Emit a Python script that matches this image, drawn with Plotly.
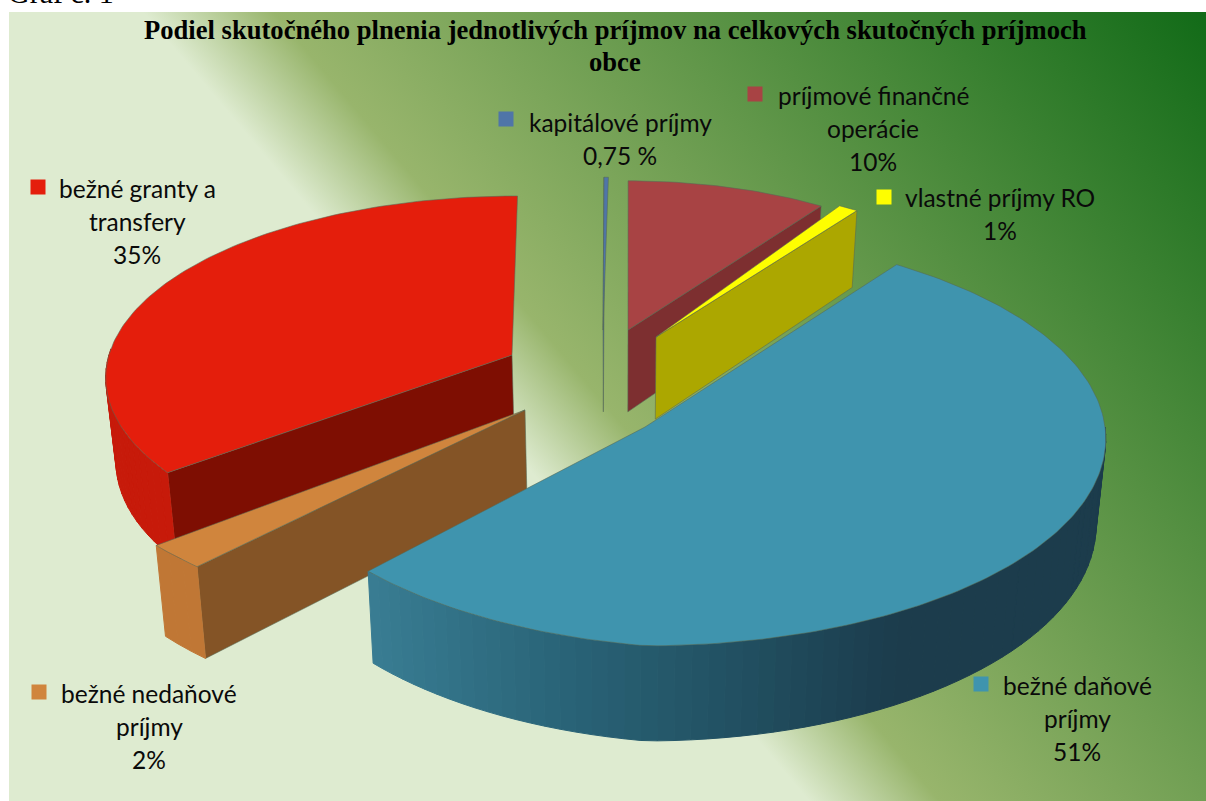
import base64

import numpy as np
import plotly.graph_objects as go

categories = [
    "bežné daňové príjmy",
    "bežné nedaňové príjmy",
    "bežné granty a transfery",
    "kapitálové príjmy",
    "príjmové finančné operácie",
    "vlastné príjmy RO",
]
# slice sizes (labels below are rounded / hand typed)
values = [51.49, 2.1, 35.49, 0.2, 9.5, 0.92]
value_labels = ["51%", "2%", "35%", "0,75 %", "10%", "1%"]
label_lines = [
    ["bežné daňové", "príjmy"],
    ["bežné nedaňové", "príjmy"],
    ["bežné granty a", "transfery"],
    ["kapitálové príjmy"],
    ["príjmové finančné", "operácie"],
    ["vlastné príjmy RO"],
]
title_lines = [
    "Podiel skutočného plnenia jednotlivých príjmov na celkových skutočných príjmoch",
    "obce",
]

W, H = 1206, 801

# chart look: pie geometry in page pixels
START_ANGLE = 38
VANISH_X, REF_Y = 620, 427
RX, RY, PERSP = 460, 207, 0.054

# apex of each exploded slice, radius tweaks, legend key, label centre
apex = [(645, 427), (525, 410), (512, 355), (603, 330), (628, 330), (656, 337)]
r_base = [1.0, 1.0, 0.893, 0.81, 0.79, 0.81]
r_front = [0, 0, 0.06, 0, 0, 0]
r_left = [0.17, 0, 0, 0, 0, 0]
angle_nudge = [-3, -1.1, 0.5, 0.4, -0.3, -2.9]
key_pos = [(981, 684), (39, 692), (38, 187), (506, 119), (755, 94), (884, 197)]
label_pos = [(1077, 685), (149, 693), (137, 188), (620, 122), (873, 95), (1000, 197)]
top_color = ["#3f94ae", "#d0853d", "#e41e0c", "#4f75a8", "#a84344", "#fefe00"]
wall_color = [None, "#c07735", "#c71a0a", "#4f75a8", "#7d2f30", "#aca700"]
cut_color = [None, "#845426", "#7e0e02", "#47689a", "#7d2f30", "#aca700"]
cut_side = [None, "start", "start", "start", "end", "end"]
wall_range = [(90, None), (None, None), (None, 272), None, None, None]
draw_order = [3, 4, 5, 2, 1, 0]
EDGE = "rgba(85,105,85,0.55)"

shares = np.array(values, dtype=float) / sum(values) * 360
starts = START_ANGLE + np.concatenate([[0], np.cumsum(shares)[:-1]]) + angle_nudge

fig = go.Figure()


def project(i, angle):
    ax, ay = apex[i]
    d = (REF_Y - ay) / RY
    wy0 = d / (1 - PERSP * d)
    wx0 = (ax - VANISH_X) / RX * (1 + PERSP * wy0)
    a = np.radians(angle)
    r = r_base[i] - r_front[i] * np.cos(a) - r_left[i] * max(0, -np.sin(a))
    wx = wx0 + r * np.sin(a)
    wy = wy0 + r * np.cos(a)
    p = 1 / (1 + PERSP * wy)
    return VANISH_X + wx * RX * p, REF_Y - wy * RY * p


def drop(sx, sy):
    # bottom edge of the disc, verticals converge slightly downwards
    return sx + (VANISH_X - sx) * 0.02, sy + 68 + 0.042 * sy


def add_poly(xs, ys, color, line=EDGE):
    fig.add_trace(go.Scatter(
        x=list(xs) + [xs[0]], y=list(ys) + [ys[0]], mode="lines", fill="toself",
        fillcolor=color, line=dict(color=line, width=1), hoverinfo="skip",
        showlegend=False,
    ))


def blue_wall(sx):
    return "rgb(%d,%d,%d)" % tuple(
        np.interp(sx, [365, 560, 760, 900], c)
        for c in ([58, 42, 33, 28], [126, 100, 78, 60], [148, 120, 95, 76])
    )


for i in draw_order:
    a0, a1 = starts[i], starts[i] + shares[i]
    arc = np.linspace(a0, a1, max(int(shares[i]), 3) + 1)
    ax, ay = apex[i]

    if cut_side[i]:
        ex, ey = project(i, a0 if cut_side[i] == "start" else a1)
        bx0, by0 = drop(ax, ay)
        bx1, by1 = drop(ex, ey)
        add_poly([ax, ex, bx1, bx0], [ay, ey, by1, by0], cut_color[i])

    if wall_range[i]:
        lo = wall_range[i][0] if wall_range[i][0] is not None else a0
        hi = wall_range[i][1] if wall_range[i][1] is not None else a1
        steps = np.linspace(lo, hi, max(int((hi - lo) / 2), 2) + 1)
        for s0, s1 in zip(steps[:-1], steps[1:]):
            x0, y0 = project(i, s0)
            x1, y1 = project(i, s1)
            bx0, by0 = drop(x0, y0)
            bx1, by1 = drop(x1, y1)
            col = wall_color[i] or blue_wall((x0 + x1) / 2)
            add_poly([x0, x1, bx1, bx0], [y0, y1, by1, by0], col, line=col)

    pts = [project(i, a) for a in arc]
    add_poly([ax] + [p[0] for p in pts], [ay] + [p[1] for p in pts], top_color[i])

# legend keys
fig.add_trace(go.Scatter(
    x=[p[0] for p in key_pos], y=[p[1] for p in key_pos], mode="markers",
    marker=dict(symbol="square", size=15, color=top_color, line=dict(width=0)),
    hoverinfo="skip", showlegend=False,
))

annotations = []


def add_text(x, y, text, font):
    annotations.append(dict(
        x=x, y=y, xref="x", yref="y", text=text, showarrow=False,
        xanchor="center", yanchor="middle", font=font,
    ))


label_font = dict(family="Lato", size=24.5, color="#0a0a0a")
LINE_H = 33
for (lx, ly), lines, val in zip(label_pos, label_lines, value_labels):
    for n, line in enumerate(lines + [val]):
        add_text(lx, ly + n * LINE_H, line, label_font)

title_font = dict(family="Liberation Serif", size=26.6, color="#000000")
add_text(615, 30, "<b>%s</b>" % title_lines[0], title_font)
add_text(615, 62, "<b>%s</b>" % title_lines[1], title_font)
annotations.append(dict(
    x=6, y=11, xref="x", yref="y", text="Graf č. 1", showarrow=False,
    xanchor="left", yanchor="bottom",
    font=dict(family="Liberation Serif", size=30, color="#000000"),
))

# diagonal background gradient of the chart area
svg = f"""<svg xmlns="http://www.w3.org/2000/svg" width="{W}" height="{H}" viewBox="0 0 {W} {H}">
<defs><linearGradient id="g" gradientUnits="userSpaceOnUse" x1="167" y1="40" x2="787" y2="-483">
<stop offset="0" stop-color="#deebd0"/><stop offset="0.123" stop-color="#98b56c"/>
<stop offset="1" stop-color="#126b18"/></linearGradient></defs>
<rect width="{W}" height="{H}" fill="white"/>
<rect x="9" y="12" width="{W}" height="{H}" fill="url(#g)"/>
</svg>"""
svg_uri = "data:image/svg+xml;base64," + base64.b64encode(svg.encode()).decode()

fig.update_layout(
    width=W, height=H, margin=dict(l=0, r=0, t=0, b=0),
    paper_bgcolor="white", plot_bgcolor="rgba(0,0,0,0)",
    xaxis=dict(range=[0, W], visible=False, fixedrange=True),
    yaxis=dict(range=[H, 0], visible=False, fixedrange=True),
    annotations=annotations,
    images=[dict(
        source=svg_uri, xref="x", yref="y", x=0, y=0, sizex=W, sizey=H,
        xanchor="left", yanchor="top", sizing="stretch", layer="below",
    )],
    shapes=[dict(
        type="rect", xref="x", yref="y", x0=9, y0=11.5, x1=W + 5, y1=H + 5,
        line=dict(color="#8c8c8c", width=2), layer="below",
    )],
)

fig.write_html(
    "out.html", config={"displayModeBar": False},
    post_script="document.body.style.margin='0';",
)
